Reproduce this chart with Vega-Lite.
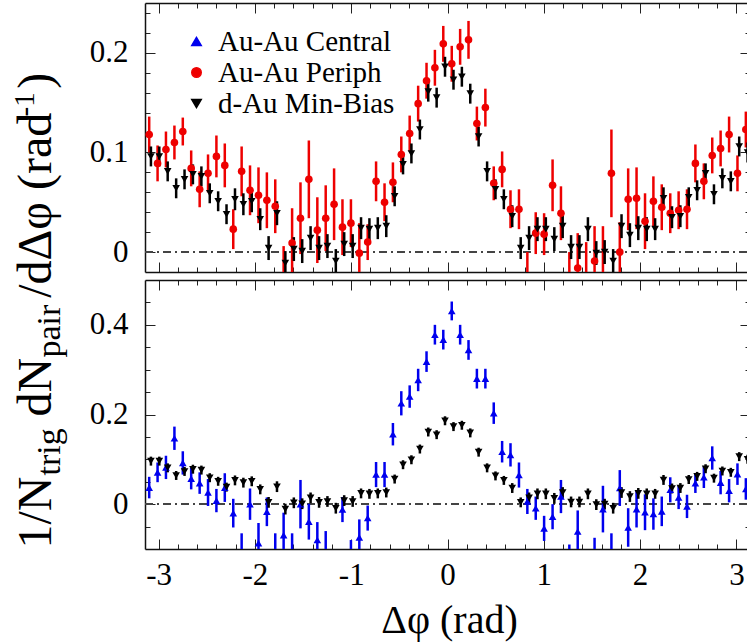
{
  "$schema": "https://vega.github.io/schema/vega-lite/v6.json",
  "width": 602,
  "height": 546,
  "autosize": {"type": "none"},
  "padding": {"left": 145, "top": 3, "right": 0, "bottom": 95},
  "background": "white",
  "config": {
    "view": {"stroke": null},
    "font": "Liberation Serif",
    "axis": {
      "grid": false,
      "domainColor": "#111111",
      "domainWidth": 1.5,
      "tickColor": "#222222",
      "tickWidth": 1,
      "labelFont": "Liberation Serif",
      "labelFontSize": 31,
      "labelColor": "black",
      "labelOverlap": false,
      "labelFlush": false,
      "titleFont": "Liberation Serif",
      "titleFontWeight": "normal",
      "titleColor": "black",
      "titleLimit": 2000
    },
    "legend": {"labelFont": "Liberation Serif"}
  },
  "datasets": {
    "pairs": [
      {"series":"Au-Au Central","dphi":-3.098,"val":0.037,"err":0.024},
      {"series":"Au-Au Central","dphi":-3.011,"val":0.071,"err":0.022},
      {"series":"Au-Au Central","dphi":-2.924,"val":0.082,"err":0.026},
      {"series":"Au-Au Central","dphi":-2.836,"val":0.147,"err":0.026},
      {"series":"Au-Au Central","dphi":-2.749,"val":0.092,"err":0.026},
      {"series":"Au-Au Central","dphi":-2.662,"val":0.057,"err":0.024},
      {"series":"Au-Au Central","dphi":-2.574,"val":0.047,"err":0.024},
      {"series":"Au-Au Central","dphi":-2.487,"val":0.026,"err":0.030},
      {"series":"Au-Au Central","dphi":-2.400,"val":0.008,"err":0.026},
      {"series":"Au-Au Central","dphi":-2.313,"val":0.037,"err":0.032},
      {"series":"Au-Au Central","dphi":-2.225,"val":-0.020,"err":0.032},
      {"series":"Au-Au Central","dphi":-2.138,"val":-0.115,"err":0.050},
      {"series":"Au-Au Central","dphi":-2.051,"val":0.000,"err":0.035},
      {"series":"Au-Au Central","dphi":-1.963,"val":-0.087,"err":0.045},
      {"series":"Au-Au Central","dphi":-1.876,"val":-0.017,"err":0.032},
      {"series":"Au-Au Central","dphi":-1.789,"val":-0.115,"err":0.050},
      {"series":"Au-Au Central","dphi":-1.702,"val":-0.069,"err":0.050},
      {"series":"Au-Au Central","dphi":-1.614,"val":-0.115,"err":0.050},
      {"series":"Au-Au Central","dphi":-1.527,"val":0.000,"err":0.054},
      {"series":"Au-Au Central","dphi":-1.440,"val":-0.039,"err":0.040},
      {"series":"Au-Au Central","dphi":-1.352,"val":-0.080,"err":0.040},
      {"series":"Au-Au Central","dphi":-1.265,"val":-0.105,"err":0.045},
      {"series":"Au-Au Central","dphi":-1.178,"val":-0.140,"err":0.040},
      {"series":"Au-Au Central","dphi":-1.091,"val":-0.012,"err":0.028},
      {"series":"Au-Au Central","dphi":-1.003,"val":-0.125,"err":0.045},
      {"series":"Au-Au Central","dphi":-0.916,"val":-0.074,"err":0.040},
      {"series":"Au-Au Central","dphi":-0.829,"val":-0.031,"err":0.028},
      {"series":"Au-Au Central","dphi":-0.742,"val":0.066,"err":0.028},
      {"series":"Au-Au Central","dphi":-0.654,"val":0.066,"err":0.028},
      {"series":"Au-Au Central","dphi":-0.567,"val":0.156,"err":0.025},
      {"series":"Au-Au Central","dphi":-0.480,"val":0.225,"err":0.027},
      {"series":"Au-Au Central","dphi":-0.393,"val":0.240,"err":0.025},
      {"series":"Au-Au Central","dphi":-0.305,"val":0.277,"err":0.025},
      {"series":"Au-Au Central","dphi":-0.218,"val":0.318,"err":0.023},
      {"series":"Au-Au Central","dphi":-0.131,"val":0.378,"err":0.022},
      {"series":"Au-Au Central","dphi":-0.044,"val":0.367,"err":0.022},
      {"series":"Au-Au Central","dphi":0.044,"val":0.431,"err":0.021},
      {"series":"Au-Au Central","dphi":0.131,"val":0.378,"err":0.022},
      {"series":"Au-Au Central","dphi":0.218,"val":0.344,"err":0.022},
      {"series":"Au-Au Central","dphi":0.305,"val":0.280,"err":0.022},
      {"series":"Au-Au Central","dphi":0.393,"val":0.280,"err":0.022},
      {"series":"Au-Au Central","dphi":0.480,"val":0.203,"err":0.024},
      {"series":"Au-Au Central","dphi":0.567,"val":0.117,"err":0.024},
      {"series":"Au-Au Central","dphi":0.654,"val":0.110,"err":0.026},
      {"series":"Au-Au Central","dphi":0.742,"val":0.065,"err":0.028},
      {"series":"Au-Au Central","dphi":0.829,"val":0.006,"err":0.028},
      {"series":"Au-Au Central","dphi":0.916,"val":-0.009,"err":0.026},
      {"series":"Au-Au Central","dphi":1.003,"val":-0.054,"err":0.028},
      {"series":"Au-Au Central","dphi":1.091,"val":-0.028,"err":0.028},
      {"series":"Au-Au Central","dphi":1.178,"val":0.017,"err":0.037},
      {"series":"Au-Au Central","dphi":1.265,"val":-0.130,"err":0.040},
      {"series":"Au-Au Central","dphi":1.352,"val":-0.061,"err":0.047},
      {"series":"Au-Au Central","dphi":1.440,"val":-0.160,"err":0.040},
      {"series":"Au-Au Central","dphi":1.527,"val":-0.125,"err":0.050},
      {"series":"Au-Au Central","dphi":1.614,"val":-0.011,"err":0.052},
      {"series":"Au-Au Central","dphi":1.702,"val":-0.115,"err":0.050},
      {"series":"Au-Au Central","dphi":1.789,"val":0.036,"err":0.040},
      {"series":"Au-Au Central","dphi":1.876,"val":-0.052,"err":0.043},
      {"series":"Au-Au Central","dphi":1.963,"val":-0.011,"err":0.041},
      {"series":"Au-Au Central","dphi":2.051,"val":-0.018,"err":0.040},
      {"series":"Au-Au Central","dphi":2.138,"val":-0.022,"err":0.035},
      {"series":"Au-Au Central","dphi":2.225,"val":-0.016,"err":0.033},
      {"series":"Au-Au Central","dphi":2.313,"val":0.032,"err":0.028},
      {"series":"Au-Au Central","dphi":2.400,"val":0.015,"err":0.026},
      {"series":"Au-Au Central","dphi":2.487,"val":-0.005,"err":0.026},
      {"series":"Au-Au Central","dphi":2.574,"val":0.047,"err":0.022},
      {"series":"Au-Au Central","dphi":2.662,"val":0.060,"err":0.024},
      {"series":"Au-Au Central","dphi":2.749,"val":0.103,"err":0.026},
      {"series":"Au-Au Central","dphi":2.836,"val":0.048,"err":0.026},
      {"series":"Au-Au Central","dphi":2.924,"val":0.030,"err":0.026},
      {"series":"Au-Au Central","dphi":3.011,"val":0.067,"err":0.024},
      {"series":"Au-Au Central","dphi":3.098,"val":0.034,"err":0.024},
      {"series":"Au-Au Periph","dphi":-3.098,"val":0.118,"err":0.018},
      {"series":"Au-Au Periph","dphi":-3.011,"val":0.089,"err":0.018},
      {"series":"Au-Au Periph","dphi":-2.924,"val":0.103,"err":0.018},
      {"series":"Au-Au Periph","dphi":-2.836,"val":0.110,"err":0.017},
      {"series":"Au-Au Periph","dphi":-2.749,"val":0.121,"err":0.014},
      {"series":"Au-Au Periph","dphi":-2.662,"val":0.084,"err":0.018},
      {"series":"Au-Au Periph","dphi":-2.574,"val":0.063,"err":0.018},
      {"series":"Au-Au Periph","dphi":-2.487,"val":0.079,"err":0.019},
      {"series":"Au-Au Periph","dphi":-2.400,"val":0.096,"err":0.021},
      {"series":"Au-Au Periph","dphi":-2.313,"val":0.087,"err":0.022},
      {"series":"Au-Au Periph","dphi":-2.225,"val":0.023,"err":0.020},
      {"series":"Au-Au Periph","dphi":-2.138,"val":0.081,"err":0.025},
      {"series":"Au-Au Periph","dphi":-2.051,"val":0.062,"err":0.025},
      {"series":"Au-Au Periph","dphi":-1.963,"val":0.057,"err":0.028},
      {"series":"Au-Au Periph","dphi":-1.876,"val":0.052,"err":0.028},
      {"series":"Au-Au Periph","dphi":-1.789,"val":0.046,"err":0.027},
      {"series":"Au-Au Periph","dphi":-1.702,"val":-0.024,"err":0.030},
      {"series":"Au-Au Periph","dphi":-1.614,"val":0.009,"err":0.035},
      {"series":"Au-Au Periph","dphi":-1.527,"val":0.034,"err":0.036},
      {"series":"Au-Au Periph","dphi":-1.440,"val":0.073,"err":0.039},
      {"series":"Au-Au Periph","dphi":-1.352,"val":0.022,"err":0.033},
      {"series":"Au-Au Periph","dphi":-1.265,"val":0.034,"err":0.033},
      {"series":"Au-Au Periph","dphi":-1.178,"val":0.048,"err":0.036},
      {"series":"Au-Au Periph","dphi":-1.091,"val":0.025,"err":0.028},
      {"series":"Au-Au Periph","dphi":-1.003,"val":0.029,"err":0.024},
      {"series":"Au-Au Periph","dphi":-0.916,"val":-0.001,"err":0.030},
      {"series":"Au-Au Periph","dphi":-0.829,"val":0.010,"err":0.018},
      {"series":"Au-Au Periph","dphi":-0.742,"val":0.071,"err":0.020},
      {"series":"Au-Au Periph","dphi":-0.654,"val":0.050,"err":0.019},
      {"series":"Au-Au Periph","dphi":-0.567,"val":0.070,"err":0.020},
      {"series":"Au-Au Periph","dphi":-0.480,"val":0.098,"err":0.018},
      {"series":"Au-Au Periph","dphi":-0.393,"val":0.119,"err":0.018},
      {"series":"Au-Au Periph","dphi":-0.305,"val":0.149,"err":0.018},
      {"series":"Au-Au Periph","dphi":-0.218,"val":0.172,"err":0.018},
      {"series":"Au-Au Periph","dphi":-0.131,"val":0.185,"err":0.018},
      {"series":"Au-Au Periph","dphi":-0.044,"val":0.209,"err":0.018},
      {"series":"Au-Au Periph","dphi":0.044,"val":0.189,"err":0.018},
      {"series":"Au-Au Periph","dphi":0.131,"val":0.206,"err":0.018},
      {"series":"Au-Au Periph","dphi":0.218,"val":0.213,"err":0.019},
      {"series":"Au-Au Periph","dphi":0.305,"val":0.129,"err":0.017},
      {"series":"Au-Au Periph","dphi":0.393,"val":0.145,"err":0.019},
      {"series":"Au-Au Periph","dphi":0.480,"val":0.069,"err":0.017},
      {"series":"Au-Au Periph","dphi":0.567,"val":0.083,"err":0.018},
      {"series":"Au-Au Periph","dphi":0.654,"val":0.043,"err":0.019},
      {"series":"Au-Au Periph","dphi":0.742,"val":0.043,"err":0.020},
      {"series":"Au-Au Periph","dphi":0.829,"val":-0.030,"err":0.030},
      {"series":"Au-Au Periph","dphi":0.916,"val":0.019,"err":0.021},
      {"series":"Au-Au Periph","dphi":1.003,"val":0.018,"err":0.021},
      {"series":"Au-Au Periph","dphi":1.091,"val":0.067,"err":0.026},
      {"series":"Au-Au Periph","dphi":1.178,"val":0.039,"err":0.027},
      {"series":"Au-Au Periph","dphi":1.265,"val":-0.035,"err":0.035},
      {"series":"Au-Au Periph","dphi":1.352,"val":-0.016,"err":0.035},
      {"series":"Au-Au Periph","dphi":1.440,"val":-0.025,"err":0.035},
      {"series":"Au-Au Periph","dphi":1.527,"val":-0.009,"err":0.035},
      {"series":"Au-Au Periph","dphi":1.614,"val":-0.022,"err":0.048},
      {"series":"Au-Au Periph","dphi":1.702,"val":0.079,"err":0.044},
      {"series":"Au-Au Periph","dphi":1.789,"val":0.000,"err":0.030},
      {"series":"Au-Au Periph","dphi":1.876,"val":0.053,"err":0.031},
      {"series":"Au-Au Periph","dphi":1.963,"val":0.054,"err":0.031},
      {"series":"Au-Au Periph","dphi":2.051,"val":0.031,"err":0.028},
      {"series":"Au-Au Periph","dphi":2.138,"val":0.051,"err":0.025},
      {"series":"Au-Au Periph","dphi":2.225,"val":0.045,"err":0.023},
      {"series":"Au-Au Periph","dphi":2.313,"val":0.039,"err":0.020},
      {"series":"Au-Au Periph","dphi":2.400,"val":0.042,"err":0.019},
      {"series":"Au-Au Periph","dphi":2.487,"val":0.043,"err":0.020},
      {"series":"Au-Au Periph","dphi":2.574,"val":0.089,"err":0.019},
      {"series":"Au-Au Periph","dphi":2.662,"val":0.071,"err":0.018},
      {"series":"Au-Au Periph","dphi":2.749,"val":0.097,"err":0.018},
      {"series":"Au-Au Periph","dphi":2.836,"val":0.104,"err":0.018},
      {"series":"Au-Au Periph","dphi":2.924,"val":0.118,"err":0.018},
      {"series":"Au-Au Periph","dphi":3.011,"val":0.079,"err":0.018},
      {"series":"Au-Au Periph","dphi":3.098,"val":0.123,"err":0.018},
      {"series":"d-Au Min-Bias","dphi":-3.080,"val":0.096,"err":0.010},
      {"series":"d-Au Min-Bias","dphi":-2.993,"val":0.096,"err":0.010},
      {"series":"d-Au Min-Bias","dphi":-2.906,"val":0.081,"err":0.010},
      {"series":"d-Au Min-Bias","dphi":-2.818,"val":0.064,"err":0.010},
      {"series":"d-Au Min-Bias","dphi":-2.731,"val":0.073,"err":0.010},
      {"series":"d-Au Min-Bias","dphi":-2.644,"val":0.078,"err":0.010},
      {"series":"d-Au Min-Bias","dphi":-2.556,"val":0.076,"err":0.010},
      {"series":"d-Au Min-Bias","dphi":-2.469,"val":0.059,"err":0.010},
      {"series":"d-Au Min-Bias","dphi":-2.382,"val":0.051,"err":0.010},
      {"series":"d-Au Min-Bias","dphi":-2.295,"val":0.038,"err":0.010},
      {"series":"d-Au Min-Bias","dphi":-2.207,"val":0.053,"err":0.011},
      {"series":"d-Au Min-Bias","dphi":-2.120,"val":0.048,"err":0.011},
      {"series":"d-Au Min-Bias","dphi":-2.033,"val":0.051,"err":0.011},
      {"series":"d-Au Min-Bias","dphi":-1.945,"val":0.033,"err":0.011},
      {"series":"d-Au Min-Bias","dphi":-1.858,"val":0.004,"err":0.012},
      {"series":"d-Au Min-Bias","dphi":-1.771,"val":0.039,"err":0.012},
      {"series":"d-Au Min-Bias","dphi":-1.684,"val":-0.011,"err":0.012},
      {"series":"d-Au Min-Bias","dphi":-1.596,"val":0.003,"err":0.012},
      {"series":"d-Au Min-Bias","dphi":-1.509,"val":0.001,"err":0.012},
      {"series":"d-Au Min-Bias","dphi":-1.422,"val":0.014,"err":0.012},
      {"series":"d-Au Min-Bias","dphi":-1.334,"val":0.004,"err":0.012},
      {"series":"d-Au Min-Bias","dphi":-1.247,"val":0.006,"err":0.012},
      {"series":"d-Au Min-Bias","dphi":-1.160,"val":-0.009,"err":0.012},
      {"series":"d-Au Min-Bias","dphi":-1.073,"val":0.008,"err":0.012},
      {"series":"d-Au Min-Bias","dphi":-0.985,"val":0.006,"err":0.012},
      {"series":"d-Au Min-Bias","dphi":-0.898,"val":0.024,"err":0.011},
      {"series":"d-Au Min-Bias","dphi":-0.811,"val":0.023,"err":0.011},
      {"series":"d-Au Min-Bias","dphi":-0.724,"val":0.024,"err":0.011},
      {"series":"d-Au Min-Bias","dphi":-0.636,"val":0.026,"err":0.011},
      {"series":"d-Au Min-Bias","dphi":-0.549,"val":0.056,"err":0.010},
      {"series":"d-Au Min-Bias","dphi":-0.462,"val":0.088,"err":0.010},
      {"series":"d-Au Min-Bias","dphi":-0.375,"val":0.099,"err":0.010},
      {"series":"d-Au Min-Bias","dphi":-0.287,"val":0.123,"err":0.010},
      {"series":"d-Au Min-Bias","dphi":-0.200,"val":0.161,"err":0.010},
      {"series":"d-Au Min-Bias","dphi":-0.113,"val":0.155,"err":0.010},
      {"series":"d-Au Min-Bias","dphi":-0.026,"val":0.186,"err":0.010},
      {"series":"d-Au Min-Bias","dphi":0.062,"val":0.173,"err":0.010},
      {"series":"d-Au Min-Bias","dphi":0.149,"val":0.176,"err":0.010},
      {"series":"d-Au Min-Bias","dphi":0.236,"val":0.159,"err":0.010},
      {"series":"d-Au Min-Bias","dphi":0.323,"val":0.116,"err":0.010},
      {"series":"d-Au Min-Bias","dphi":0.411,"val":0.081,"err":0.010},
      {"series":"d-Au Min-Bias","dphi":0.498,"val":0.063,"err":0.010},
      {"series":"d-Au Min-Bias","dphi":0.585,"val":0.053,"err":0.010},
      {"series":"d-Au Min-Bias","dphi":0.672,"val":0.036,"err":0.011},
      {"series":"d-Au Min-Bias","dphi":0.760,"val":0.004,"err":0.011},
      {"series":"d-Au Min-Bias","dphi":0.847,"val":0.014,"err":0.012},
      {"series":"d-Au Min-Bias","dphi":0.934,"val":0.023,"err":0.012},
      {"series":"d-Au Min-Bias","dphi":1.021,"val":0.023,"err":0.012},
      {"series":"d-Au Min-Bias","dphi":1.109,"val":0.013,"err":0.012},
      {"series":"d-Au Min-Bias","dphi":1.196,"val":0.026,"err":0.012},
      {"series":"d-Au Min-Bias","dphi":1.283,"val":0.005,"err":0.012},
      {"series":"d-Au Min-Bias","dphi":1.370,"val":0.005,"err":0.012},
      {"series":"d-Au Min-Bias","dphi":1.458,"val":0.023,"err":0.012},
      {"series":"d-Au Min-Bias","dphi":1.545,"val":-0.001,"err":0.012},
      {"series":"d-Au Min-Bias","dphi":1.632,"val":0.000,"err":0.012},
      {"series":"d-Au Min-Bias","dphi":1.720,"val":-0.009,"err":0.012},
      {"series":"d-Au Min-Bias","dphi":1.807,"val":0.026,"err":0.012},
      {"series":"d-Au Min-Bias","dphi":1.894,"val":0.017,"err":0.012},
      {"series":"d-Au Min-Bias","dphi":1.981,"val":0.024,"err":0.012},
      {"series":"d-Au Min-Bias","dphi":2.069,"val":0.023,"err":0.012},
      {"series":"d-Au Min-Bias","dphi":2.156,"val":0.023,"err":0.011},
      {"series":"d-Au Min-Bias","dphi":2.243,"val":0.054,"err":0.011},
      {"series":"d-Au Min-Bias","dphi":2.331,"val":0.035,"err":0.011},
      {"series":"d-Au Min-Bias","dphi":2.418,"val":0.036,"err":0.011},
      {"series":"d-Au Min-Bias","dphi":2.505,"val":0.055,"err":0.010},
      {"series":"d-Au Min-Bias","dphi":2.592,"val":0.062,"err":0.010},
      {"series":"d-Au Min-Bias","dphi":2.680,"val":0.079,"err":0.010},
      {"series":"d-Au Min-Bias","dphi":2.767,"val":0.058,"err":0.010},
      {"series":"d-Au Min-Bias","dphi":2.854,"val":0.074,"err":0.010},
      {"series":"d-Au Min-Bias","dphi":2.942,"val":0.071,"err":0.010},
      {"series":"d-Au Min-Bias","dphi":3.029,"val":0.106,"err":0.010},
      {"series":"d-Au Min-Bias","dphi":3.116,"val":0.100,"err":0.010}
    ]
  },
  "data": {"name": "pairs"},
  "layer": [
    {
      "mark": {"type": "rule", "color": "#444444", "strokeWidth": 1.2, "strokeDash": [8, 4, 2, 4]},
      "encoding": {
        "y": {"datum": 0, "type": "quantitative", "scale": {"domain": [-0.02, 0.25], "range": [269, 0], "nice": false, "zero": false}, "axis": null}
      }
    },
    {
      "transform": [{"filter": "datum.series !== 'Au-Au Central'"}],
      "mark": {"type": "errorbar", "ticks": false, "thickness": 2.5},
      "encoding": {
        "x": {"field": "dphi", "type": "quantitative",
          "scale": {"domain": [-3.14159, 3.11], "nice": false, "zero": false},
          "axis": {"orient": "top", "labels": false, "title": null,
            "values": [-3, -2.8, -2.6, -2.4, -2.2, -2, -1.8, -1.6, -1.4, -1.2, -1, -0.8, -0.6, -0.4, -0.2, 0, 0.2, 0.4, 0.6, 0.8, 1, 1.2, 1.4, 1.6, 1.8, 2, 2.2, 2.4, 2.6, 2.8, 3],
            "tickSize": {"condition": {"test": "abs(datum.value - round(datum.value)) < 1e-6", "value": -10}, "value": -5}}},
        "y": {"field": "val", "type": "quantitative",
          "scale": {"domain": [-0.02, 0.25], "range": [269, 0], "nice": false, "zero": false, "clamp": true},
          "axis": {"orient": "right", "offset": 3, "labels": false,
            "values": [0, 0.02, 0.04, 0.06, 0.08, 0.1, 0.12, 0.14, 0.16, 0.18, 0.2, 0.22, 0.24],
            "tickSize": {"condition": {"test": "abs(datum.value*10 - round(datum.value*10)) < 1e-6", "value": -10}, "value": -5},
            "title": "pair", "titleFontSize": 34, "titleAngle": -90, "titleAlign": "left", "titleBaseline": "alphabetic",
            "titleX": -691, "titleY": 354}},
        "yError": {"field": "err"},
        "color": {"field": "series", "type": "nominal",
          "scale": {"domain": ["Au-Au Central", "Au-Au Periph", "d-Au Min-Bias"], "range": ["#0000ee", "#ee0000", "#000000"]}}
      }
    },
    {
      "transform": [{"filter": "datum.series !== 'Au-Au Central' && datum.val >= -0.02"}],
      "mark": {"type": "point", "filled": true, "opacity": 1, "size": 58},
      "encoding": {
        "x": {"field": "dphi", "type": "quantitative",
          "scale": {"domain": [-3.14159, 3.11], "nice": false, "zero": false},
          "axis": {"orient": "bottom", "offset": -277, "labels": false, "title": null,
            "values": [-3, -2.8, -2.6, -2.4, -2.2, -2, -1.8, -1.6, -1.4, -1.2, -1, -0.8, -0.6, -0.4, -0.2, 0, 0.2, 0.4, 0.6, 0.8, 1, 1.2, 1.4, 1.6, 1.8, 2, 2.2, 2.4, 2.6, 2.8, 3],
            "tickSize": {"condition": {"test": "abs(datum.value - round(datum.value)) < 1e-6", "value": -10}, "value": -5}}},
        "y": {"field": "val", "type": "quantitative",
          "scale": {"domain": [-0.02, 0.25], "range": [269, 0], "nice": false, "zero": false},
          "axis": {"orient": "left",
            "values": [0, 0.02, 0.04, 0.06, 0.08, 0.1, 0.12, 0.14, 0.16, 0.18, 0.2, 0.22, 0.24],
            "tickSize": {"condition": {"test": "abs(datum.value*10 - round(datum.value*10)) < 1e-6", "value": -10}, "value": -5},
            "labelExpr": "abs(datum.value*10 - round(datum.value*10)) < 1e-6 ? format(datum.value, '.1~f') : ''",
            "labelPadding": 27,
            "title": "1/N\u00a0\u00a0\u00a0\u00a0\u00a0dN\u00a0\u00a0\u00a0\u00a0\u00a0/dΔφ (rad\u00a0\u00a0)",
            "titleFontSize": 48, "titleAngle": -90, "titleAlign": "left", "titleBaseline": "alphabetic",
            "titleX": -95, "titleY": 545}},
        "color": {"field": "series", "type": "nominal",
          "scale": {"domain": ["Au-Au Central", "Au-Au Periph", "d-Au Min-Bias"], "range": ["#0000ee", "#ee0000", "#000000"]},
          "legend": {"orient": "none", "legendX": 37, "legendY": 24, "title": null, "padding": 0,
            "labelFontSize": 29, "labelLimit": 400, "symbolSize": 90, "rowPadding": 1, "labelOffset": 7,
            "encode": {"labels": {"fill": {"value": {"expr": "scale('color', datum.value)"}}}}}},
        "shape": {"field": "series", "type": "nominal",
          "scale": {"domain": ["Au-Au Central", "Au-Au Periph", "d-Au Min-Bias"], "range": ["triangle-up", "circle", "triangle-down"]},
          "legend": {"orient": "none", "legendX": 37, "legendY": 24, "title": null, "padding": 0,
            "labelFontSize": 29, "labelLimit": 400, "symbolSize": 90, "rowPadding": 1, "labelOffset": 7,
            "encode": {"labels": {"fill": {"value": {"expr": "scale('color', datum.value)"}}}}}}
      }
    },
    {
      "mark": {"type": "rule", "color": "#444444", "strokeWidth": 1.2, "strokeDash": [8, 4, 2, 4]},
      "encoding": {
        "y": {"datum": 0, "type": "quantitative", "scale": {"domain": [-0.1, 0.5], "range": [546, 277], "nice": false, "zero": false}, "axis": null}
      }
    },
    {
      "transform": [{"filter": "datum.series !== 'Au-Au Periph'"}],
      "mark": {"type": "errorbar", "ticks": false, "thickness": 2.5},
      "encoding": {
        "x": {"field": "dphi", "type": "quantitative",
          "scale": {"domain": [-3.14159, 3.11], "nice": false, "zero": false},
          "axis": {"orient": "top", "offset": -277, "labels": false, "title": null,
            "values": [-3, -2.8, -2.6, -2.4, -2.2, -2, -1.8, -1.6, -1.4, -1.2, -1, -0.8, -0.6, -0.4, -0.2, 0, 0.2, 0.4, 0.6, 0.8, 1, 1.2, 1.4, 1.6, 1.8, 2, 2.2, 2.4, 2.6, 2.8, 3],
            "tickSize": {"condition": {"test": "abs(datum.value - round(datum.value)) < 1e-6", "value": -10}, "value": -5}}},
        "y": {"field": "val", "type": "quantitative",
          "scale": {"domain": [-0.1, 0.5], "range": [546, 277], "nice": false, "zero": false, "clamp": true},
          "axis": {"orient": "right", "offset": 3, "labels": false,
            "values": [-0.05, 0, 0.05, 0.1, 0.15, 0.2, 0.25, 0.3, 0.35, 0.4, 0.45],
            "tickSize": {"condition": {"test": "abs(datum.value*5 - round(datum.value*5)) < 1e-6", "value": -10}, "value": -5},
            "title": "-1", "titleFontSize": 29, "titleAngle": -90, "titleAlign": "left", "titleBaseline": "alphabetic",
            "titleX": -717, "titleY": 113}},
        "yError": {"field": "err"},
        "color": {"field": "series", "type": "nominal",
          "scale": {"domain": ["Au-Au Central", "Au-Au Periph", "d-Au Min-Bias"], "range": ["#0000ee", "#ee0000", "#000000"]}}
      }
    },
    {
      "transform": [{"filter": "datum.series !== 'Au-Au Periph' && datum.val >= -0.1"}],
      "mark": {"type": "point", "filled": true, "opacity": 1, "size": 58},
      "encoding": {
        "x": {"field": "dphi", "type": "quantitative",
          "scale": {"domain": [-3.14159, 3.11], "nice": false, "zero": false},
          "axis": {"orient": "bottom",
            "values": [-3, -2.8, -2.6, -2.4, -2.2, -2, -1.8, -1.6, -1.4, -1.2, -1, -0.8, -0.6, -0.4, -0.2, 0, 0.2, 0.4, 0.6, 0.8, 1, 1.2, 1.4, 1.6, 1.8, 2, 2.2, 2.4, 2.6, 2.8, 3],
            "tickSize": {"condition": {"test": "abs(datum.value - round(datum.value)) < 1e-6", "value": -10}, "value": -5},
            "labelExpr": "abs(datum.value - round(datum.value)) < 1e-6 ? toString(round(datum.value)) : ''",
            "labelPadding": 21,
            "title": "Δφ (rad)", "titleFontSize": 40, "titleAlign": "center", "titleBaseline": "alphabetic",
            "titleX": 304, "titleY": 83}},
        "y": {"field": "val", "type": "quantitative",
          "scale": {"domain": [-0.1, 0.5], "range": [546, 277], "nice": false, "zero": false},
          "axis": {"orient": "left",
            "values": [-0.05, 0, 0.05, 0.1, 0.15, 0.2, 0.25, 0.3, 0.35, 0.4, 0.45],
            "tickSize": {"condition": {"test": "abs(datum.value*5 - round(datum.value*5)) < 1e-6", "value": -10}, "value": -5},
            "labelExpr": "abs(datum.value*5 - round(datum.value*5)) < 1e-6 ? format(datum.value, '.1~f') : ''",
            "labelPadding": 27,
            "title": "trig", "titleFontSize": 34, "titleAngle": -90, "titleAlign": "left", "titleBaseline": "alphabetic",
            "titleX": -86, "titleY": 472}},
        "color": {"field": "series", "type": "nominal",
          "scale": {"domain": ["Au-Au Central", "Au-Au Periph", "d-Au Min-Bias"], "range": ["#0000ee", "#ee0000", "#000000"]},
          "legend": {"orient": "none", "legendX": 37, "legendY": 24, "title": null, "padding": 0,
            "labelFontSize": 29, "labelLimit": 400, "symbolSize": 90, "rowPadding": 1, "labelOffset": 7,
            "encode": {"labels": {"fill": {"value": {"expr": "scale('color', datum.value)"}}}}}},
        "shape": {"field": "series", "type": "nominal",
          "scale": {"domain": ["Au-Au Central", "Au-Au Periph", "d-Au Min-Bias"], "range": ["triangle-up", "circle", "triangle-down"]},
          "legend": {"orient": "none", "legendX": 37, "legendY": 24, "title": null, "padding": 0,
            "labelFontSize": 29, "labelLimit": 400, "symbolSize": 90, "rowPadding": 1, "labelOffset": 7,
            "encode": {"labels": {"fill": {"value": {"expr": "scale('color', datum.value)"}}}}}}
      }
    }
  ],
  "resolve": {"scale": {"y": "independent"}, "axis": {"x": "independent", "y": "independent"}}
}
